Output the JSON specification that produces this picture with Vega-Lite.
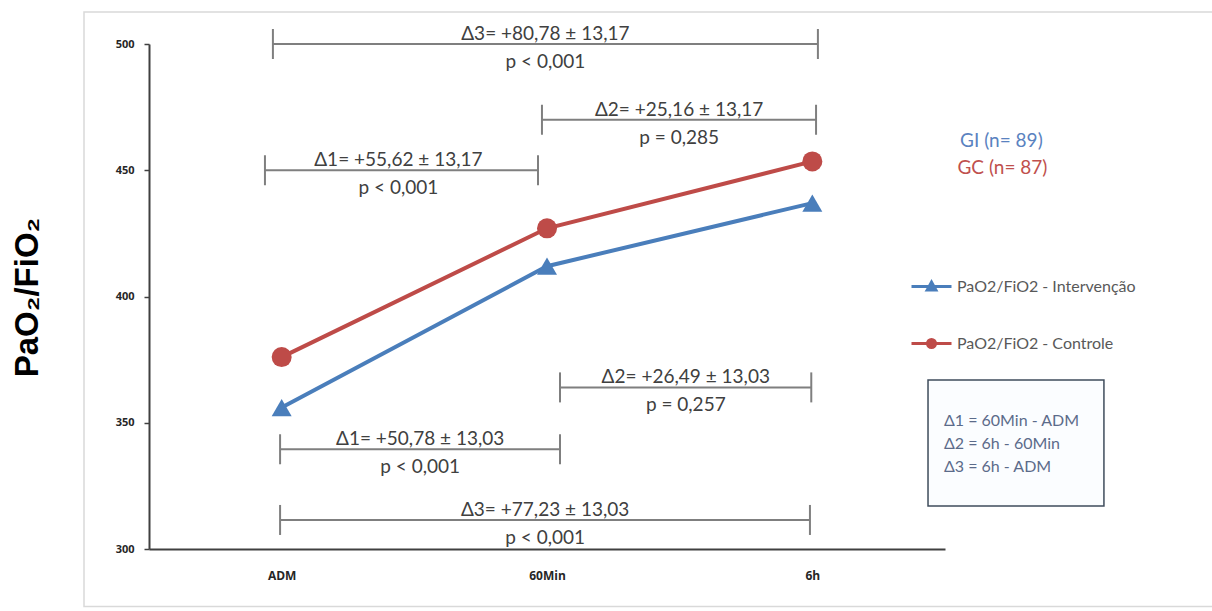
{
  "$schema": "https://vega.github.io/schema/vega-lite/v6.json",
  "width": 796,
  "height": 505,
  "autosize": {"type": "none"},
  "padding": {"left": 149, "top": 44, "right": 267, "bottom": 62},
  "background": "white",
  "config": {"view": {"stroke": null}, "font": "Lato"},
  "datasets": {
    "series": [
      {"momento": "ADM", "t": 0.5, "grupo": "PaO2/FiO2 - Intervenção", "valor": 356},
      {"momento": "60Min", "t": 1.5, "grupo": "PaO2/FiO2 - Intervenção", "valor": 412},
      {"momento": "6h", "t": 2.5, "grupo": "PaO2/FiO2 - Intervenção", "valor": 437},
      {"momento": "ADM", "t": 0.5, "grupo": "PaO2/FiO2 - Controle", "valor": 376},
      {"momento": "60Min", "t": 1.5, "grupo": "PaO2/FiO2 - Controle", "valor": 427},
      {"momento": "6h", "t": 2.5, "grupo": "PaO2/FiO2 - Controle", "valor": 453.5}
    ],
    "brackets": [
      {"grupo": "GC", "de": 0.467, "ate": 2.521, "meio": 1.494, "nivel": 500, "diff": "Δ3= +80,78 ± 13,17", "p": "p < 0,001"},
      {"grupo": "GC", "de": 1.481, "ate": 2.514, "meio": 1.998, "nivel": 470, "diff": "Δ2= +25,16 ± 13,17", "p": "p = 0,285"},
      {"grupo": "GC", "de": 0.437, "ate": 1.466, "meio": 0.94, "nivel": 450, "diff": "Δ1= +55,62 ± 13,17", "p": "p < 0,001"},
      {"grupo": "GI", "de": 1.549, "ate": 2.496, "meio": 2.023, "nivel": 364, "diff": "Δ2= +26,49 ± 13,03", "p": "p = 0,257"},
      {"grupo": "GI", "de": 0.494, "ate": 1.549, "meio": 1.022, "nivel": 339.5, "diff": "Δ1= +50,78 ± 13,03", "p": "p < 0,001"},
      {"grupo": "GI", "de": 0.494, "ate": 2.491, "meio": 1.493, "nivel": 311.5, "diff": "Δ3= +77,23 ± 13,03", "p": "p < 0,001"}
    ],
    "vazio": [{}]
  },
  "layer": [
    {
      "data": {"name": "vazio"},
      "mark": {"type": "rect", "fill": null, "fillOpacity": 0, "stroke": "#d9d9d9", "strokeWidth": 1.5},
      "encoding": {
        "x": {"datum": -0.245, "type": "quantitative"},
        "x2": {"datum": 4.2},
        "y": {"datum": 512.7, "type": "quantitative"},
        "y2": {"datum": 277.2}
      }
    },
    {
      "data": {"name": "series"},
      "mark": {"type": "line", "strokeWidth": 4},
      "encoding": {
        "x": {
          "field": "t", "type": "quantitative",
          "scale": {"domain": [0, 3], "nice": false, "zero": false},
          "axis": {
            "values": [0.5, 1.5, 2.5],
            "labelExpr": "datum.value == 0.5 ? 'ADM' : datum.value == 1.5 ? '60Min' : '6h'",
            "title": null, "grid": false, "ticks": false,
            "domainColor": "#404040", "domainWidth": 2,
            "labelFont": "Open Sans", "labelFontWeight": "bold", "labelFontSize": 12, "labelColor": "#262626",
            "labelPadding": 21
          }
        },
        "y": {
          "field": "valor", "type": "quantitative",
          "scale": {"domain": [300, 500], "nice": false, "zero": false},
          "axis": {
            "values": [300, 350, 400, 450, 500],
            "grid": false, "tickSize": 5, "tickColor": "#404040", "tickWidth": 1.5,
            "domainColor": "#404040", "domainWidth": 2,
            "labelFont": "Open Sans", "labelFontWeight": "bold", "labelFontSize": 11, "labelColor": "#262626",
            "labelPadding": 10,
            "title": "PaO₂/FiO₂", "titleFont": "Liberation Sans", "titleFontSize": 33, "titleFontWeight": "bold",
            "titleColor": "black", "titleX": -122, "titleY": 253, "titleAngle": -90,
            "titleAlign": "center", "titleBaseline": "middle", "titleAnchor": null
          }
        },
        "color": {
          "field": "grupo", "type": "nominal",
          "scale": {"domain": ["PaO2/FiO2 - Intervenção", "PaO2/FiO2 - Controle"], "range": ["#4a7ebb", "#be4b48"]},
          "legend": {
            "orient": "none", "legendX": 761, "legendY": 221, "title": null, "direction": "vertical",
            "symbolType": "M-1,0H1", "symbolSize": 1600, "symbolStrokeWidth": 3,
            "rowPadding": 25, "labelFont": "Lato", "labelFontSize": 16, "labelColor": "#595959",
            "labelOffset": 4, "labelLimit": 300,
            "encode": {
              "symbols": {
                "update": {
                  "shape": {"signal": "datum.value === 'PaO2/FiO2 - Controle' ? 'M-1,0H1M-0.2,0A0.2,0.2 0 1,0 0.2,0A0.2,0.2 0 1,0 -0.2,0Z' : 'M-1,0H1M-0.22,0.18L0,-0.22L0.22,0.18Z'"},
                  "fill": {"signal": "scale('color', datum.value)"}
                }
              }
            }
          }
        }
      }
    },
    {
      "data": {"name": "series"},
      "transform": [{"filter": "datum.grupo === 'PaO2/FiO2 - Intervenção'"}],
      "mark": {"type": "point", "filled": true, "size": 400, "opacity": 1, "shape": "triangle-up", "color": "#4a7ebb"},
      "encoding": {
        "x": {"field": "t", "type": "quantitative"},
        "y": {"field": "valor", "type": "quantitative"}
      }
    },
    {
      "data": {"name": "series"},
      "transform": [{"filter": "datum.grupo === 'PaO2/FiO2 - Controle'"}],
      "mark": {"type": "point", "filled": true, "size": 400, "opacity": 1, "shape": "circle", "color": "#be4b48"},
      "encoding": {
        "x": {"field": "t", "type": "quantitative"},
        "y": {"field": "valor", "type": "quantitative"}
      }
    },
    {
      "data": {"name": "brackets"},
      "mark": {"type": "rule", "color": "#7f7f7f", "strokeWidth": 2},
      "encoding": {
        "x": {"field": "de", "type": "quantitative"},
        "x2": {"field": "ate"},
        "y": {"field": "nivel", "type": "quantitative"}
      }
    },
    {
      "data": {"name": "brackets"},
      "mark": {"type": "rule", "color": "#7f7f7f", "strokeWidth": 2, "yOffset": -15, "y2Offset": 15},
      "encoding": {
        "x": {"field": "de", "type": "quantitative"},
        "y": {"field": "nivel", "type": "quantitative"},
        "y2": {"field": "nivel"}
      }
    },
    {
      "data": {"name": "brackets"},
      "mark": {"type": "rule", "color": "#7f7f7f", "strokeWidth": 2, "yOffset": -15, "y2Offset": 15},
      "encoding": {
        "x": {"field": "ate", "type": "quantitative"},
        "y": {"field": "nivel", "type": "quantitative"},
        "y2": {"field": "nivel"}
      }
    },
    {
      "data": {"name": "brackets"},
      "mark": {"type": "text", "font": "Lato", "fontSize": 19, "color": "#404040", "baseline": "middle", "dy": -10},
      "encoding": {
        "x": {"field": "meio", "type": "quantitative"},
        "y": {"field": "nivel", "type": "quantitative"},
        "text": {"field": "diff"}
      }
    },
    {
      "data": {"name": "brackets"},
      "mark": {"type": "text", "font": "Lato", "fontSize": 19, "color": "#404040", "baseline": "middle", "dy": 18},
      "encoding": {
        "x": {"field": "meio", "type": "quantitative"},
        "y": {"field": "nivel", "type": "quantitative"},
        "text": {"field": "p"}
      }
    },
    {
      "data": {"name": "vazio"},
      "mark": {"type": "text", "font": "Lato", "fontSize": 19, "color": "#5a82c0", "align": "left", "baseline": "middle"},
      "encoding": {
        "x": {"datum": 3.057, "type": "quantitative"},
        "y": {"datum": 461.6, "type": "quantitative"},
        "text": {"value": "GI (n= 89)"}
      }
    },
    {
      "data": {"name": "vazio"},
      "mark": {"type": "text", "font": "Lato", "fontSize": 19, "color": "#c0504d", "align": "left", "baseline": "middle"},
      "encoding": {
        "x": {"datum": 3.047, "type": "quantitative"},
        "y": {"datum": 450.9, "type": "quantitative"},
        "text": {"value": "GC (n= 87)"}
      }
    },
    {
      "data": {"name": "vazio"},
      "mark": {"type": "rect", "fill": "#fbfdff", "stroke": "#3f4c5c", "strokeWidth": 1.5},
      "encoding": {
        "x": {"datum": 2.936, "type": "quantitative"},
        "x2": {"datum": 3.599},
        "y": {"datum": 366.9, "type": "quantitative"},
        "y2": {"datum": 317.0}
      }
    },
    {
      "data": {"name": "vazio"},
      "mark": {"type": "text", "font": "Lato", "fontSize": 16, "color": "#5b6b8a", "align": "left", "baseline": "middle", "lineHeight": 23},
      "encoding": {
        "x": {"datum": 2.996, "type": "quantitative"},
        "y": {"datum": 350.7, "type": "quantitative"},
        "text": {"value": ["Δ1 = 60Min - ADM", "Δ2 = 6h - 60Min", "Δ3 = 6h - ADM"]}
      }
    }
  ]
}
